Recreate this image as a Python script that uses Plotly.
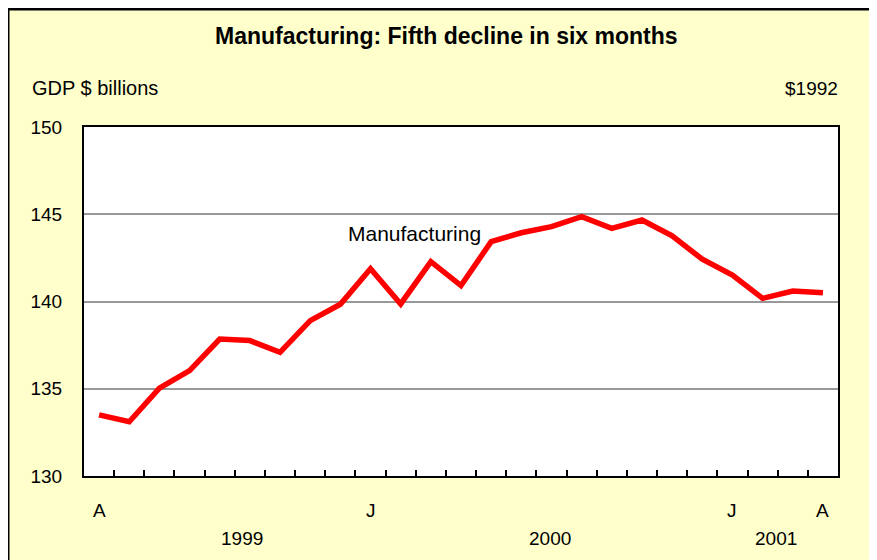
import plotly.graph_objects as go

# ---- data ----
months = list(range(25))  # Apr 1999 .. Apr 2001
gdp = [133.50, 133.11, 135.03, 136.04, 137.85, 137.76, 137.09, 138.90, 139.84,
       141.88, 139.86, 142.28, 140.91, 143.43, 143.94, 144.29, 144.86, 144.19,
       144.67, 143.77, 142.42, 141.52, 140.18, 140.60, 140.50]
month_labels = ["A", "J", "J", "A"]
month_label_idx = [0, 9, 21, 24]
year_labels = ["1999", "2000", "2001"]
year_label_pos = [4.75, 14.95, 22.45]
y_ticks = [130, 135, 140, 145, 150]
tick_between = [i + 0.5 for i in range(24)]

FONT = "Arial, Liberation Sans, sans-serif"
W, H = 877, 560
OFF = 8  # page body margin
ML, MR, MT, MB = 76, 47, 119, 92
PW, PH = W - ML - MR, H - MT - MB

def px2x(sx):
    return (sx - OFF - ML) / PW

def px2y(sy):
    return (H - MB - (sy - OFF)) / PH

fig = go.Figure()
fig.add_trace(go.Scatter(x=months, y=gdp, mode="lines",
                         line=dict(color="#FF0000", width=5.5),
                         hoverinfo="skip", showlegend=False))

annotations = []
for lab, idx in zip(month_labels, month_label_idx):
    annotations.append(dict(x=idx, y=px2y(510), xref="x", yref="paper", text=lab,
                            showarrow=False, font=dict(family=FONT, size=19, color="black"),
                            xanchor="center", yanchor="middle"))
for lab, pos in zip(year_labels, year_label_pos):
    annotations.append(dict(x=pos, y=px2y(538), xref="x", yref="paper", text=lab,
                            showarrow=False, font=dict(family=FONT, size=19, color="black"),
                            xanchor="center", yanchor="middle"))
annotations += [
    dict(x=px2x(446), y=px2y(36), xref="paper", yref="paper",
         text="<b>Manufacturing: Fifth decline in six months</b>", showarrow=False,
         font=dict(family=FONT, size=23, color="black"), xanchor="center", yanchor="middle"),
    dict(x=px2x(30), y=px2y(88), xref="paper", yref="paper", text="GDP $ billions",
         showarrow=False, font=dict(family=FONT, size=20, color="black"),
         xanchor="left", yanchor="middle"),
    dict(x=px2x(840), y=px2y(88), xref="paper", yref="paper", text="$1992",
         showarrow=False, font=dict(family=FONT, size=19, color="black"),
         xanchor="right", yanchor="middle"),
    dict(x=10.45, y=143.87, xref="x", yref="y", text="Manufacturing",
         showarrow=False, font=dict(family=FONT, size=21, color="black"),
         xanchor="center", yanchor="middle"),
]

shapes = [
    dict(type="line", xref="paper", yref="paper", x0=px2x(6), x1=px2x(W + 20),
         y0=px2y(9), y1=px2y(9), line=dict(color="black", width=3), layer="below"),
    dict(type="line", xref="paper", yref="paper", x0=px2x(8), x1=px2x(8),
         y0=px2y(7), y1=px2y(H + 20), line=dict(color="black", width=3), layer="below"),
]

fig.update_layout(
    width=W, height=H,
    margin=dict(l=ML, r=MR, t=MT, b=MB, pad=0),
    paper_bgcolor="#FFFFCC", plot_bgcolor="white",
    showlegend=False,
    annotations=annotations, shapes=shapes,
    xaxis=dict(range=[-0.5, 24.5], tickvals=tick_between, ticks="inside", ticklen=6,
               tickwidth=1.5, tickcolor="black", showticklabels=False, showgrid=False,
               zeroline=False, showline=True, linecolor="black", linewidth=2, mirror=True,
               fixedrange=True),
    yaxis=dict(range=[130, 150], tickvals=y_ticks, ticks="", showgrid=True,
               gridcolor="#999999", gridwidth=1.5, zeroline=False, showline=True,
               linecolor="black", linewidth=2, mirror=True, ticklabelstandoff=16,
               tickfont=dict(family=FONT, size=19, color="black"), fixedrange=True),
)

fig.write_html("out.html")
